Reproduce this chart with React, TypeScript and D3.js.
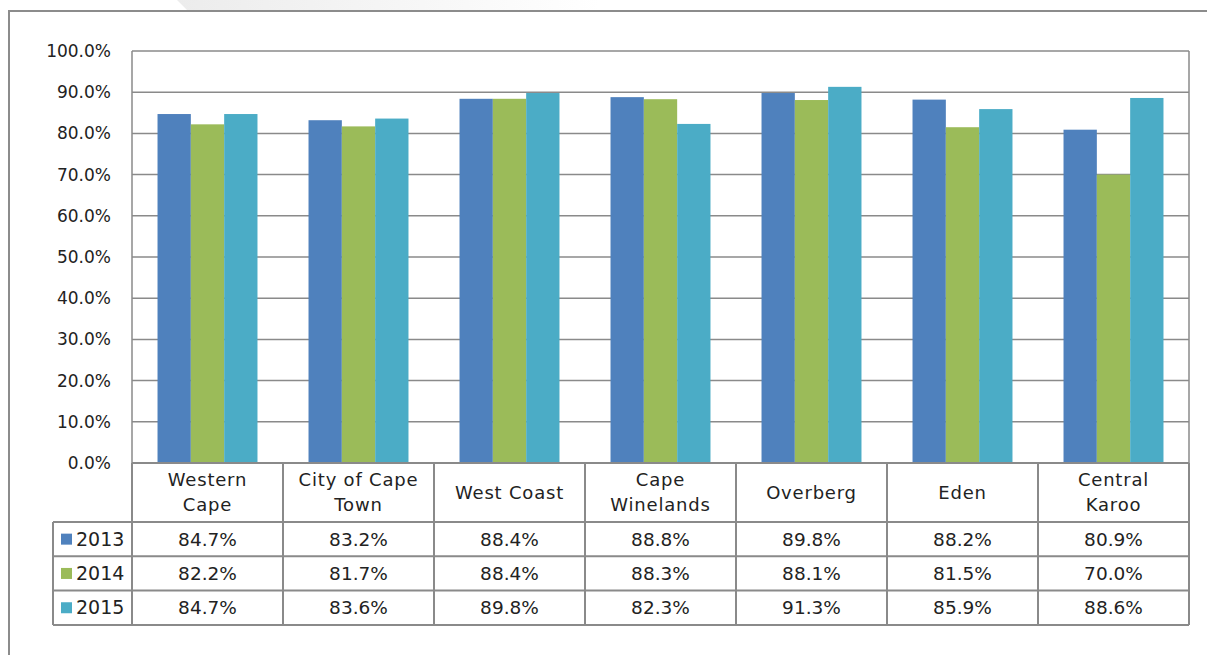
import React from "react";
import * as d3 from "d3";

const categories = [
  ["Western", "Cape"],
  ["City of Cape", "Town"],
  ["West Coast"],
  ["Cape", "Winelands"],
  ["Overberg"],
  ["Eden"],
  ["Central", "Karoo"],
];
const seriesNames = ["2013", "2014", "2015"];
const values2013 = [84.7, 83.2, 88.4, 88.8, 89.8, 88.2, 80.9];
const values2014 = [82.2, 81.7, 88.4, 88.3, 88.1, 81.5, 70.0];
const values2015 = [84.7, 83.6, 89.8, 82.3, 91.3, 85.9, 88.6];
const colors = ["#4F81BD", "#9BBB59", "#4BACC6"];
const yTicks = [0, 10, 20, 30, 40, 50, 60, 70, 80, 90, 100];

export default function App() {
  const series = [values2013, values2014, values2015];
  const left = 132, right = 1189, top = 51, bottom = 463;
  const font = "'DejaVu Sans', sans-serif";
  const gridColor = "#8a8a8a";
  const x = d3
    .scaleBand<number>()
    .domain(categories.map((_, i) => i))
    .range([left, right])
    .paddingInner(0)
    .paddingOuter(0);
  const bw = x.bandwidth();
  const inner = d3
    .scaleBand<number>()
    .domain([0, 1, 2])
    .range([bw * 0.169, bw * 0.831]);
  const y = d3.scaleLinear().domain([0, 100]).range([bottom, top]);

  const headerBottom = 522;
  const rowH = 34.3;
  const legendLeft = 53;
  const rowsBottom = headerBottom + rowH * 3;

  return (
    <svg
      width={1207}
      height={655}
      style={{ position: "absolute", left: 0, top: 0, background: "#fff" }}
      fontFamily={font}
    >
      <defs>
        <linearGradient id="shadow" x1="0" x2="1" y1="0" y2="0">
          <stop offset="0" stopColor="#ececec" />
          <stop offset="1" stopColor="#ffffff" />
        </linearGradient>
      </defs>
      <polygon points="177,0 600,0 600,10 187,10" fill="url(#shadow)" />
      {/* outer frame */}
      <path d="M9,655 L9,11 L1207,11" fill="none" stroke="#8c8c8c" strokeWidth={2} />

      {/* gridlines */}
      {yTicks.map((t) => (
        <line
          key={t}
          x1={left}
          x2={right}
          y1={y(t)}
          y2={y(t)}
          stroke={gridColor}
          strokeWidth={1.5}
        />
      ))}
      <line x1={left} x2={left} y1={top} y2={bottom} stroke={gridColor} strokeWidth={1.5} />
      <line x1={right} x2={right} y1={top} y2={bottom} stroke={gridColor} strokeWidth={1.5} />

      {/* bars */}
      {series.map((vals, s) =>
        vals.map((v, i) => (
          <rect
            key={`${s}-${i}`}
            x={(x(i) as number) + (inner(s) as number)}
            y={y(v)}
            width={inner.bandwidth()}
            height={bottom - y(v)}
            fill={colors[s]}
          />
        ))
      )}

      {/* y tick labels */}
      {yTicks.map((t) => (
        <text
          key={t}
          x={111}
          y={y(t)}
          dy="0.35em"
          textAnchor="end"
          fontSize={17}
          fill="#222"
        >
          {t.toFixed(1) + "%"}
        </text>
      ))}

      {/* table grid */}
      <g stroke={gridColor} strokeWidth={2} fill="none">
        <line x1={left} x2={right} y1={bottom} y2={bottom} />
        {[0, 1, 2, 3].map((r) => (
          <line
            key={r}
            x1={legendLeft}
            x2={right}
            y1={headerBottom + r * rowH}
            y2={headerBottom + r * rowH}
          />
        ))}
        <line x1={legendLeft} x2={legendLeft} y1={headerBottom} y2={rowsBottom} />
        {d3.range(8).map((k) => (
          <line
            key={k}
            x1={left + k * bw}
            x2={left + k * bw}
            y1={bottom}
            y2={rowsBottom}
          />
        ))}
      </g>

      {/* category labels */}
      {categories.map((lines, i) => {
        const cx = (x(i) as number) + bw / 2;
        const cy = (bottom + headerBottom) / 2;
        const lh = 25;
        const start = cy - ((lines.length - 1) * lh) / 2;
        return (
          <text key={i} x={cx} textAnchor="middle" fontSize={18} fill="#222" letterSpacing={0.8}>
            {lines.map((l, j) => (
              <tspan key={j} x={cx} y={start + j * lh} dy="0.35em">
                {l}
              </tspan>
            ))}
          </text>
        );
      })}

      {/* legend column */}
      {seriesNames.map((n, s) => {
        const cy = headerBottom + rowH * s + rowH / 2;
        return (
          <g key={n}>
            <rect x={61} y={cy - 5.5} width={11} height={11} fill={colors[s]} />
            <text x={76} y={cy} dy="0.35em" fontSize={19} fill="#222">
              {n}
            </text>
          </g>
        );
      })}

      {/* values */}
      {series.map((vals, s) =>
        vals.map((v, i) => (
          <text
            key={`${s}-${i}`}
            x={(x(i) as number) + bw / 2}
            y={headerBottom + rowH * s + rowH / 2}
            dy="0.35em"
            textAnchor="middle"
            fontSize={18.5}
            fill="#222"
          >
            {v.toFixed(1) + "%"}
          </text>
        ))
      )}
    </svg>
  );
}
